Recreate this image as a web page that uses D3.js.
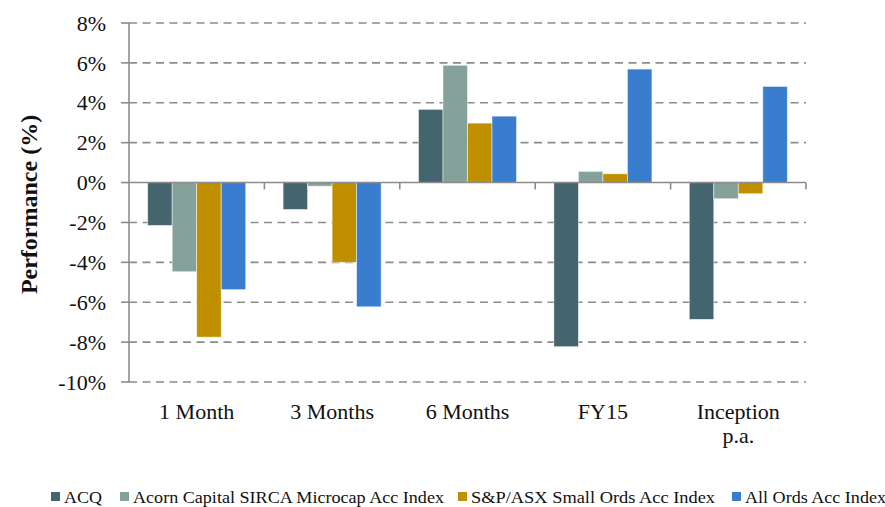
<!DOCTYPE html>
<html>
<head>
<meta charset="utf-8">
<script src="https://cdn.jsdelivr.net/npm/d3@7"></script>
<style>
  body { margin: 0; background: #fff; }
</style>
</head>
<body>
<div id="chart"></div>
<script>
let width = 885, height = 507;

// Data (performance, %)
const categories = ['1 Month', '3 Months', '6 Months', 'FY15', 'Inception p.a.'];
const seriesNames = ['ACQ', 'Acorn Capital SIRCA Microcap Acc Index', 'S&P/ASX Small Ords Acc Index', 'All Ords Acc Index'];
const acq = [-2.15, -1.35, 3.67, -8.23, -6.86];
const acorn = [-4.47, -0.18, 5.88, 0.56, -0.81];
const smallOrds = [-7.75, -4.0, 2.98, 0.44, -0.56];
const allOrds = [-5.37, -6.23, 3.33, 5.69, 4.82];
const yTicks = [8, 6, 4, 2, 0, -2, -4, -6, -8, -10];

const colors = ['#44656d', '#84a19a', '#bf8f00', '#3a7dce'];
const series = [acq, acorn, smallOrds, allOrds];
const FONT = "'Liberation Serif', 'DejaVu Serif', serif";

const margin = { left: 129, right: 79, top: 23, bottom: 125 };

const svg = d3.select('#chart').append('svg')
  .attr('width', width)
  .attr('height', height)
  .style('font-family', FONT);

const x = d3.scaleBand()
  .domain(categories)
  .range([margin.left, width - margin.right]);

const y = d3.scaleLinear()
  .domain([-10, 8])
  .range([height - margin.bottom, margin.top]);

const bw = x.bandwidth();
const barW = bw * 0.181;
const groupPad = (bw - barW * 4) / 2;

// Gridlines
svg.append('g').selectAll('line')
  .data(yTicks.filter(d => d !== 0))
  .join('line')
    .attr('x1', margin.left)
    .attr('x2', width - margin.right)
    .attr('y1', d => y(d))
    .attr('y2', d => y(d))
    .attr('stroke', '#8c8c8c')
    .attr('stroke-width', 1.6)
    .attr('stroke-dasharray', '8,5.5');

// Bars
series.forEach((vals, si) => {
  svg.append('g').selectAll('rect')
    .data(vals)
    .join('rect')
      .attr('x', (d, i) => x(categories[i]) + groupPad + si * barW)
      .attr('y', d => y(Math.max(0, d)))
      .attr('width', barW)
      .attr('height', d => Math.abs(y(d) - y(0)))
      .attr('fill', colors[si])
      .attr('stroke', '#ffffff')
      .attr('stroke-opacity', 0.6)
      .attr('stroke-width', 0.8);
});

// Y axis
svg.append('line')
  .attr('x1', margin.left).attr('x2', margin.left)
  .attr('y1', y(8)).attr('y2', y(-10))
  .attr('stroke', '#8c8c8c').attr('stroke-width', 1.6);

svg.append('g').selectAll('line')
  .data(yTicks)
  .join('line')
    .attr('x1', margin.left - 8)
    .attr('x2', margin.left)
    .attr('y1', d => y(d))
    .attr('y2', d => y(d))
    .attr('stroke', '#8c8c8c')
    .attr('stroke-width', 1.6);

svg.append('g').selectAll('text')
  .data(yTicks)
  .join('text')
    .attr('x', margin.left - 23)
    .attr('y', d => y(d))
    .attr('dy', '0.35em')
    .attr('text-anchor', 'end')
    .attr('fill', '#111')
    .style('font-size', '22px')
    .text(d => d + '%');

// Zero line and category ticks
svg.append('line')
  .attr('x1', margin.left).attr('x2', width - margin.right)
  .attr('y1', y(0)).attr('y2', y(0))
  .attr('stroke', '#8c8c8c').attr('stroke-width', 1.6);

const bounds = categories.map(c => x(c)).concat([width - margin.right]);
svg.append('g').selectAll('line')
  .data(bounds.slice(1))
  .join('line')
    .attr('x1', d => d).attr('x2', d => d)
    .attr('y1', y(0)).attr('y2', y(0) + 7)
    .attr('stroke', '#8c8c8c')
    .attr('stroke-width', 1.6);

// Category labels
const catLabels = svg.append('g').selectAll('text')
  .data(categories)
  .join('text')
    .attr('x', d => x(d) + bw / 2)
    .attr('y', 419)
    .attr('text-anchor', 'middle')
    .attr('fill', '#111')
    .style('font-size', '22px');

catLabels.each(function(d) {
  const parts = d === 'Inception p.a.' ? ['Inception', 'p.a.'] : [d];
  d3.select(this).selectAll('tspan')
    .data(parts)
    .join('tspan')
      .attr('x', x(d) + bw / 2)
      .attr('dy', (p, i) => i === 0 ? 0 : 24)
      .text(p => p);
});

// Y title
svg.append('text')
  .attr('transform', 'translate(37,' + y(-1.1) + ') rotate(-90)')
  .attr('text-anchor', 'middle')
  .attr('fill', '#111')
  .style('font-size', '24px')
  .style('font-weight', 'bold')
  .text('Performance (%)');

// Legend
const legendX = [51, 120, 458, 732];
const legendW = [38, 311, 244, 141];
const legend = svg.append('g').selectAll('g')
  .data(seriesNames)
  .join('g')
    .attr('transform', (d, i) => 'translate(' + legendX[i] + ',497)');

legend.append('rect')
  .attr('x', 0).attr('y', -5)
  .attr('width', 9).attr('height', 9)
  .attr('fill', (d, i) => colors[i]);

legend.append('text')
  .attr('x', 13)
  .attr('dy', '0.35em')
  .attr('fill', '#111')
  .style('font-size', '17px')
  .attr('textLength', (d, i) => legendW[i])
  .attr('lengthAdjust', 'spacingAndGlyphs')
  .text(d => d);
</script>
</body>
</html>
